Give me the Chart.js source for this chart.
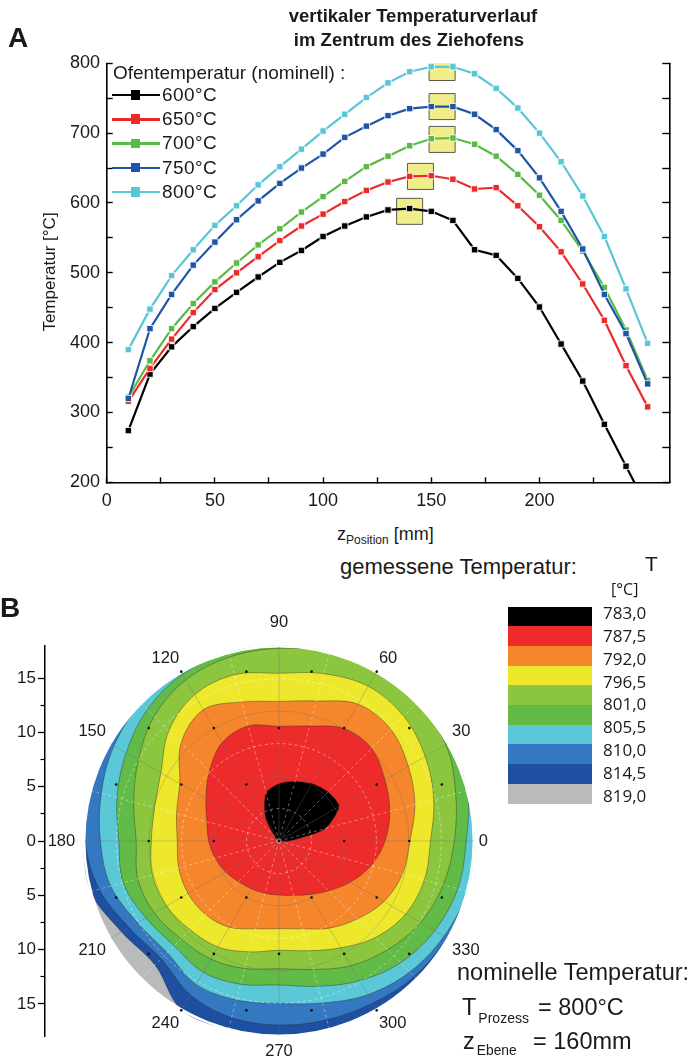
<!DOCTYPE html>
<html lang="de">
<head>
<meta charset="utf-8">
<title>Temperaturverlauf im Ziehofen</title>
<script src="https://cdn.jsdelivr.net/npm/chart.js@4.4.1/dist/chart.umd.min.js"></script>
<style>
  html, body { margin: 0; padding: 0; background: #fff; overflow: hidden; }
  body { position: relative; width: 694px; height: 1061px; font-family: "Liberation Sans", Arial, sans-serif; color: #1a1a1a; }
  canvas, .t { position: absolute; }
  .t { white-space: nowrap; margin: 0; }
  .os { font-family: "Open Sans", sans-serif; }
  .sym { position: absolute; left: 112px; width: 48px; height: 10px; }
  .sym i { position: absolute; top: 3.8px; height: 2.4px; }
  .sym b { position: absolute; left: 18.5px; top: 0; width: 9.6px; height: 9.6px; }
  .blk { position: absolute; left: 508px; width: 84px; }
</style>
</head>
<body>
<canvas id="chartA" width="694" height="520" style="left:0;top:0"></canvas>
<canvas id="polar" width="558" height="456" style="left:0;top:610px"></canvas>
<canvas id="frame" width="520" height="410" style="left:0;top:636px"></canvas>

<div class="t" style="left:8px;top:24px;font-size:28px;line-height:28px;font-weight:bold">A</div>
<div class="t" style="left:213px;width:400px;text-align:center;top:5px;font-size:18.5px;line-height:22px;font-weight:bold">vertikaler Temperaturverlauf</div>
<div class="t" style="left:209px;width:400px;text-align:center;top:29px;font-size:18.5px;line-height:22px;font-weight:bold">im Zentrum des Ziehofens</div>
<div class="t" style="left:113px;top:62px;font-size:19px;line-height:22px">Ofentemperatur (nominell) :</div>
<div id="legendA"></div>
<div class="t" style="left:-50px;top:262px;width:200px;text-align:center;font-size:17px;line-height:20px;transform:rotate(-90deg)">Temperatur [°C]</div>
<div class="t" style="left:337px;top:524px;font-size:18px;line-height:20px">z<span style="font-size:12px;vertical-align:-4px">Position</span> [mm]</div>

<div class="t" style="left:0;top:594px;font-size:28px;line-height:28px;font-weight:bold">B</div>
<div class="t" style="left:340px;top:554px;font-size:22px;line-height:26px">gemessene Temperatur:</div>
<div class="t" style="left:645px;top:551px;font-size:21px;line-height:26px">T</div>
<div class="t os" style="left:611px;top:579px;font-size:16px;line-height:20px">[°C]</div>
<div id="colorbar"></div>
<div class="t" style="left:457px;top:958px;font-size:23.5px;line-height:28px">nominelle Temperatur:</div>
<div class="t" style="left:462px;top:993px;font-size:23.5px;line-height:28px">T<span style="font-size:14px;vertical-align:-8px;margin-left:2px">Prozess</span><span style="position:absolute;left:76px">= 800°C</span></div>
<div class="t" style="left:463px;top:1027px;font-size:23.5px;line-height:28px">z<span style="font-size:13.8px;vertical-align:-6px;margin-left:2px">Ebene</span><span style="position:absolute;left:70px">= 160mm</span></div>

<script>
Chart.defaults.font.family = '"Liberation Sans", Arial, sans-serif';
Chart.defaults.color = '#1a1a1a';

// ---- A: vertical temperature profile ----
var zPosition = [10, 20, 30, 40, 50, 60, 70, 80, 90, 100, 110, 120, 130, 140, 150, 160, 170, 180, 190, 200, 210, 220, 230, 240, 250];
var temp600 = [274, 355, 394, 423, 449, 472, 494, 515, 532, 552, 567, 580, 590, 592, 588, 575, 533, 525, 492, 451, 398, 345, 283, 223, 163];
var temp650 = [316, 363, 405, 443, 476, 500, 523, 546, 567, 584, 602, 618, 630, 638, 639, 634, 620, 622, 596, 566, 530, 484, 432, 367, 308];
var temp700 = [322, 374, 420, 456, 487, 514, 540, 563, 587, 609, 631, 652, 667, 682, 692, 693, 684, 667, 641, 611, 575, 531, 479, 418, 346];
var temp750 = [320, 420, 469, 511, 544, 576, 603, 628, 650, 670, 694, 710, 725, 735, 738, 738, 727, 705, 675, 636, 588, 534, 469, 413, 341];
var temp800 = [390, 448, 496, 533, 568, 596, 626, 652, 677, 703, 727, 751, 772, 788, 795, 795, 785, 764, 736, 700, 659, 610, 552, 477, 399];
var ovenLabels = ['600°C', '650°C', '700°C', '750°C', '800°C'];
var ovenColors = ['#000000', '#ec2a2a', '#5cb947', '#1f55a6', '#58c6d6'];
// highlighted maxima (yellow boxes)
var peakZ = [140, 145, 155, 155, 155];
var peakT = [588, 638, 691, 738, 794];

var seriesA = [temp600, temp650, temp700, temp750, temp800];
var datasetsA = seriesA.map(function (vals, i) {
  return {
    label: ovenLabels[i],
    data: zPosition.map(function (z, j) { return { x: z, y: vals[j] }; }),
    showLine: true,
    borderColor: ovenColors[i],
    backgroundColor: ovenColors[i],
    borderWidth: 2.2,
    pointStyle: 'rect',
    pointRadius: 4.5,
    pointBorderColor: 'rgba(255,255,255,0.85)',
    pointBorderWidth: 1,
    order: -i
  };
});
datasetsA.push({
  label: 'Maximum',
  data: peakZ.map(function (z, j) { return { x: z, y: peakT[j] }; }),
  showLine: false,
  pointStyle: 'rect',
  pointRadius: 18.4,
  backgroundColor: '#f1ed88',
  borderColor: '#5a5a4a',
  borderWidth: 1,
  order: 10
});

var tickFontA = { size: 18 };
new Chart(document.getElementById('chartA'), {
  type: 'scatter',
  data: { datasets: datasetsA },
  options: {
    responsive: false,
    animation: false,
    layout: { padding: { left: 0, top: 63.3, right: 24.7, bottom: 7.7 } },
    plugins: { legend: { display: false }, tooltip: { enabled: false } },
    scales: {
      x: {
        type: 'linear', min: 0, max: 260, position: 'bottom',
        border: { color: '#000', width: 1.6 },
        grid: { drawOnChartArea: false, tickLength: -5, color: '#000', tickWidth: 1.4 },
        ticks: { stepSize: 25, autoSkip: false, maxRotation: 0, padding: 13, font: tickFontA,
          callback: function (v) { return v % 50 === 0 ? v : ''; } },
        afterBuildTicks: function (s) { s.ticks = s.ticks.filter(function (t) { return t.value % 25 === 0; }); },
        afterFit: function (s) { s.height = 30; s.paddingLeft = 0; s.paddingRight = 0; }
      },
      y: {
        type: 'linear', min: 200, max: 800, position: 'left',
        border: { color: '#000', width: 1.6 },
        grid: { drawOnChartArea: false, tickLength: -6, color: '#000', tickWidth: 1.4 },
        ticks: { stepSize: 50, autoSkip: false, padding: 12.7, font: tickFontA,
          callback: function (v) { return v % 100 === 0 ? v : ''; } },
        afterFit: function (s) { s.width = 106.7; s.paddingTop = 0; s.paddingBottom = 0; }
      },
      y2: {
        type: 'linear', min: 200, max: 800, position: 'right',
        border: { color: '#000', width: 1.6 },
        grid: { drawOnChartArea: false, tickLength: -7, color: '#000', tickWidth: 1.4 },
        ticks: { display: false, stepSize: 50 },
        afterFit: function (s) { s.width = 0; s.paddingTop = 0; s.paddingBottom = 0; }
      }
    }
  }
});

// legend of part A
var legendA = document.getElementById('legendA');
ovenLabels.forEach(function (name, i) {
  var cy = 95 + i * 24.2;
  var sym = document.createElement('div');
  sym.className = 'sym';
  sym.style.top = (cy - 4.8) + 'px';
  sym.innerHTML = '<i style="left:0;width:19px;background:' + ovenColors[i] + '"></i>' +
    '<b style="background:' + ovenColors[i] + '"></b>' +
    '<i style="left:28px;width:20px;background:' + ovenColors[i] + '"></i>';
  legendA.appendChild(sym);
  var txt = document.createElement('div');
  txt.className = 't';
  txt.style.cssText = 'left:162px;top:' + (cy - 11) + 'px;font-size:19px;line-height:22px;letter-spacing:0.4px';
  txt.textContent = name;
  legendA.appendChild(txt);
});

// ---- B: measured temperature map, z = 160 mm ----
var levelLabels = ['783,0', '787,5', '792,0', '796,5', '801,0', '805,5', '810,0', '814,5', '819,0'];
var levelColors = ['#000000', '#ee2b2b', '#f5862c', '#eee82c', '#8cc63f', '#62bb46', '#5bc8d8', '#3378c0', '#1f4fa0', '#b8babc'];
var polarAngles = [0, 15, 30, 45, 60, 75, 90, 105, 120, 135, 150, 165, 180, 195, 210, 225, 240, 255, 270, 285, 300, 315, 330, 345];
// outer radius of each colour region per angle (scale units)
var rBlack     = [1.0, 4.4, 6.4, 6.4, 6.1, 5.7, 5.3, 4.6, 2.5, 0.5, 0, 0, 0, 0, 0, 0, 0, 0, 0, 0, 0, 0, 0, 0.2];
var rRed       = [9.8, 10.6, 11.3, 12.1, 12.0, 11.0, 10.6, 11.0, 10.5, 9.1, 7.8, 6.9, 6.5, 6.1, 5.7, 5.3, 5.1, 5.0, 5.0, 5.2, 5.7, 6.5, 7.6, 8.8];
var rOrange    = [12.1, 13.0, 13.8, 14.6, 14.6, 13.4, 12.9, 13.3, 14.0, 12.8, 10.6, 9.8, 9.4, 9.6, 9.7, 9.6, 9.2, 8.4, 8.1, 8.4, 9.3, 10.2, 11.2, 11.8];
var rYellow    = [14.0, 14.8, 15.6, 16.3, 16.5, 16.0, 15.5, 15.9, 15.6, 14.4, 12.6, 11.9, 11.8, 12.1, 12.0, 11.6, 11.3, 10.6, 10.1, 10.5, 11.4, 12.6, 13.5, 13.9];
var rLightGreen= [16.2, 16.9, 17.8, 18, 18, 18, 17.8, 17.6, 17.2, 16.3, 15.0, 13.9, 13.2, 13.5, 13.3, 12.8, 12.6, 12.2, 11.8, 12.3, 13.3, 14.2, 15.1, 15.7];
var rGreen     = [17.3, 18, 18, 18, 18, 18, 18, 18, 17.8, 17.2, 16.3, 15.5, 14.8, 14.9, 14.2, 13.7, 14.0, 13.7, 13.3, 13.9, 14.9, 15.9, 16.6, 17.1];
var rCyan      = [18, 18, 18, 18, 18, 18, 18, 18, 18, 18, 17.6, 17.0, 16.5, 16.1, 15.1, 14.6, 15.3, 15.2, 15.0, 15.5, 16.4, 17.1, 17.6, 18];
var rBlue      = [18, 18, 18, 18, 18, 18, 18, 18, 18, 18, 18, 18, 17.9, 17.2, 16.0, 15.4, 16.4, 16.9, 17.0, 17.1, 17.3, 17.7, 17.9, 18];
var rDarkBlue  = [18, 18, 18, 18, 18, 18, 18, 18, 18, 18, 18, 18, 18, 18, 16.8, 16.2, 18, 18, 18, 18, 18, 18, 18, 18];
var rGray      = [18, 18, 18, 18, 18, 18, 18, 18, 18, 18, 18, 18, 18, 18, 18, 18, 18, 18, 18, 18, 18, 18, 18, 18];
// measuring positions (hexagonal grid)
var sensorX = [-9, -3, 3, 9, -12, -6, 0, 6, 12, -15, -9, -3, 3, 9, 15, -12, -6, 0, 6, 12, -15, -9, -3, 3, 9, 15, -12, -6, 0, 6, 12, -9, -3, 3, 9];
var sensorY = [15.6, 15.6, 15.6, 15.6, 10.4, 10.4, 10.4, 10.4, 10.4, 5.2, 5.2, 5.2, 5.2, 5.2, 5.2, 0, 0, 0, 0, 0,
  -5.2, -5.2, -5.2, -5.2, -5.2, -5.2, -10.4, -10.4, -10.4, -10.4, -10.4, -15.6, -15.6, -15.6, -15.6];

// radar runs clockwise from the top, so list the angles as 90, 75, ... 0, 345 ... 105
var radarOrder = polarAngles.map(function (a, k) { return (450 - 15 * k) % 360; });
function byAngle(arr) { return radarOrder.map(function (a) { return arr[polarAngles.indexOf(a)]; }); }
var regions = [rBlack, rRed, rOrange, rYellow, rLightGreen, rGreen, rCyan, rBlue, rDarkBlue, rGray];

new Chart(document.getElementById('polar'), {
  type: 'radar',
  data: {
    labels: radarOrder,
    datasets: regions.map(function (r, i) {
      return {
        data: byAngle(r),
        backgroundColor: levelColors[i],
        borderColor: i === regions.length - 1 ? 'rgba(0,0,0,0)' : 'rgba(35,35,35,0.55)',
        borderWidth: 0.7,
        fill: 'origin',
        pointRadius: 0,
        tension: i === 0 ? 0.25 : 0.35
      };
    })
  },
  options: {
    responsive: false,
    animation: false,
    plugins: { legend: { display: false }, tooltip: { enabled: false } },
    scales: {
      r: {
        min: 0, max: 18,
        ticks: { display: false, stepSize: 3 },
        grid: {
          circular: true, z: 1,
          color: function (c) {
            var v = c.tick.value;
            if (v >= 18) return '#ffffff';
            return v % 6 === 0 ? 'rgba(110,110,110,0.45)' : 'rgba(255,255,255,0.6)';
          },
          lineWidth: function (c) { return c.tick.value >= 18 ? 2.5 : 0.7; }
        },
        border: { dash: function (c) { return (c.tick && c.tick.value % 6 !== 0 && c.tick.value < 18) ? [3, 3] : []; } },
        angleLines: {
          color: function (c) { return radarOrder[c.index] % 30 === 0 ? 'rgba(110,110,110,0.5)' : 'rgba(255,255,255,0.55)'; },
          lineWidth: 0.7,
          borderDash: function (c) { return radarOrder[c.index] % 30 === 0 ? [] : [3, 3]; }
        },
        pointLabels: {
          display: true,
          color: '#1a1a1a',
          font: { size: 16.5 },
          padding: function (c) {
            var a = radarOrder[c.index];
            if (a === 90) return 13.4;
            if (a === 270) return 6;
            if (a === 180) return 9;
            return 5;
          },
          callback: function (l) { return l % 30 === 0 ? String(l) : ''; }
        }
      }
    }
  }
});

// frame: left axis and measuring points, same scale as the polar plot
new Chart(document.getElementById('frame'), {
  type: 'scatter',
  data: {
    datasets: [{
      data: sensorX.map(function (x, i) { return { x: x, y: sensorY[i] }; }),
      pointRadius: 1.3,
      backgroundColor: '#111',
      borderWidth: 0
    }]
  },
  options: {
    responsive: false,
    animation: false,
    layout: { padding: { left: 0, top: 9.6, right: 7, bottom: 9.6 } },
    plugins: { legend: { display: false }, tooltip: { enabled: false } },
    scales: {
      x: { display: false, min: -21.555, max: 21.555 },
      y: {
        position: 'left', weight: 1, min: -18, max: 18,
        border: { color: '#000', width: 1.5 },
        grid: { drawOnChartArea: false, tickLength: 7, color: '#000', tickWidth: 1.3 },
        ticks: { stepSize: 5, autoSkip: false, padding: 2, font: { size: 17 },
          callback: function (v) { return Math.abs(v); } },
        afterBuildTicks: function (s) { s.ticks = s.ticks.filter(function (t) { return t.value % 5 === 0; }); },
        afterFit: function (s) { s.width = 45; s.paddingTop = 0; s.paddingBottom = 0; }
      },
      yMinor: {
        position: 'left', weight: 0, min: -18, max: 18,
        border: { display: false },
        grid: { drawOnChartArea: false, tickLength: 4.5, color: '#000', tickWidth: 1.2 },
        ticks: { display: false, stepSize: 2.5 },
        afterBuildTicks: function (s) { s.ticks = s.ticks.filter(function (t) { return t.value % 5 !== 0 && Math.abs(t.value) < 18; }); },
        afterFit: function (s) { s.width = 0; s.paddingTop = 0; s.paddingBottom = 0; }
      }
    }
  }
});

// colour scale legend
var bar = document.getElementById('colorbar');
var blockH = 196.6 / levelColors.length;
levelColors.forEach(function (c, i) {
  var d = document.createElement('div');
  d.className = 'blk';
  d.style.cssText = 'top:' + (606.7 + i * blockH) + 'px;height:' + (blockH + 0.4) + 'px;background:' + c;
  bar.appendChild(d);
});
levelLabels.forEach(function (lab, i) {
  var d = document.createElement('div');
  d.className = 't os';
  d.style.cssText = 'left:603px;top:' + (613.3 + i * 22.92 - 10.5) + 'px;font-size:17px;line-height:20px';
  d.textContent = lab;
  bar.appendChild(d);
});
</script>
</body>
</html>
